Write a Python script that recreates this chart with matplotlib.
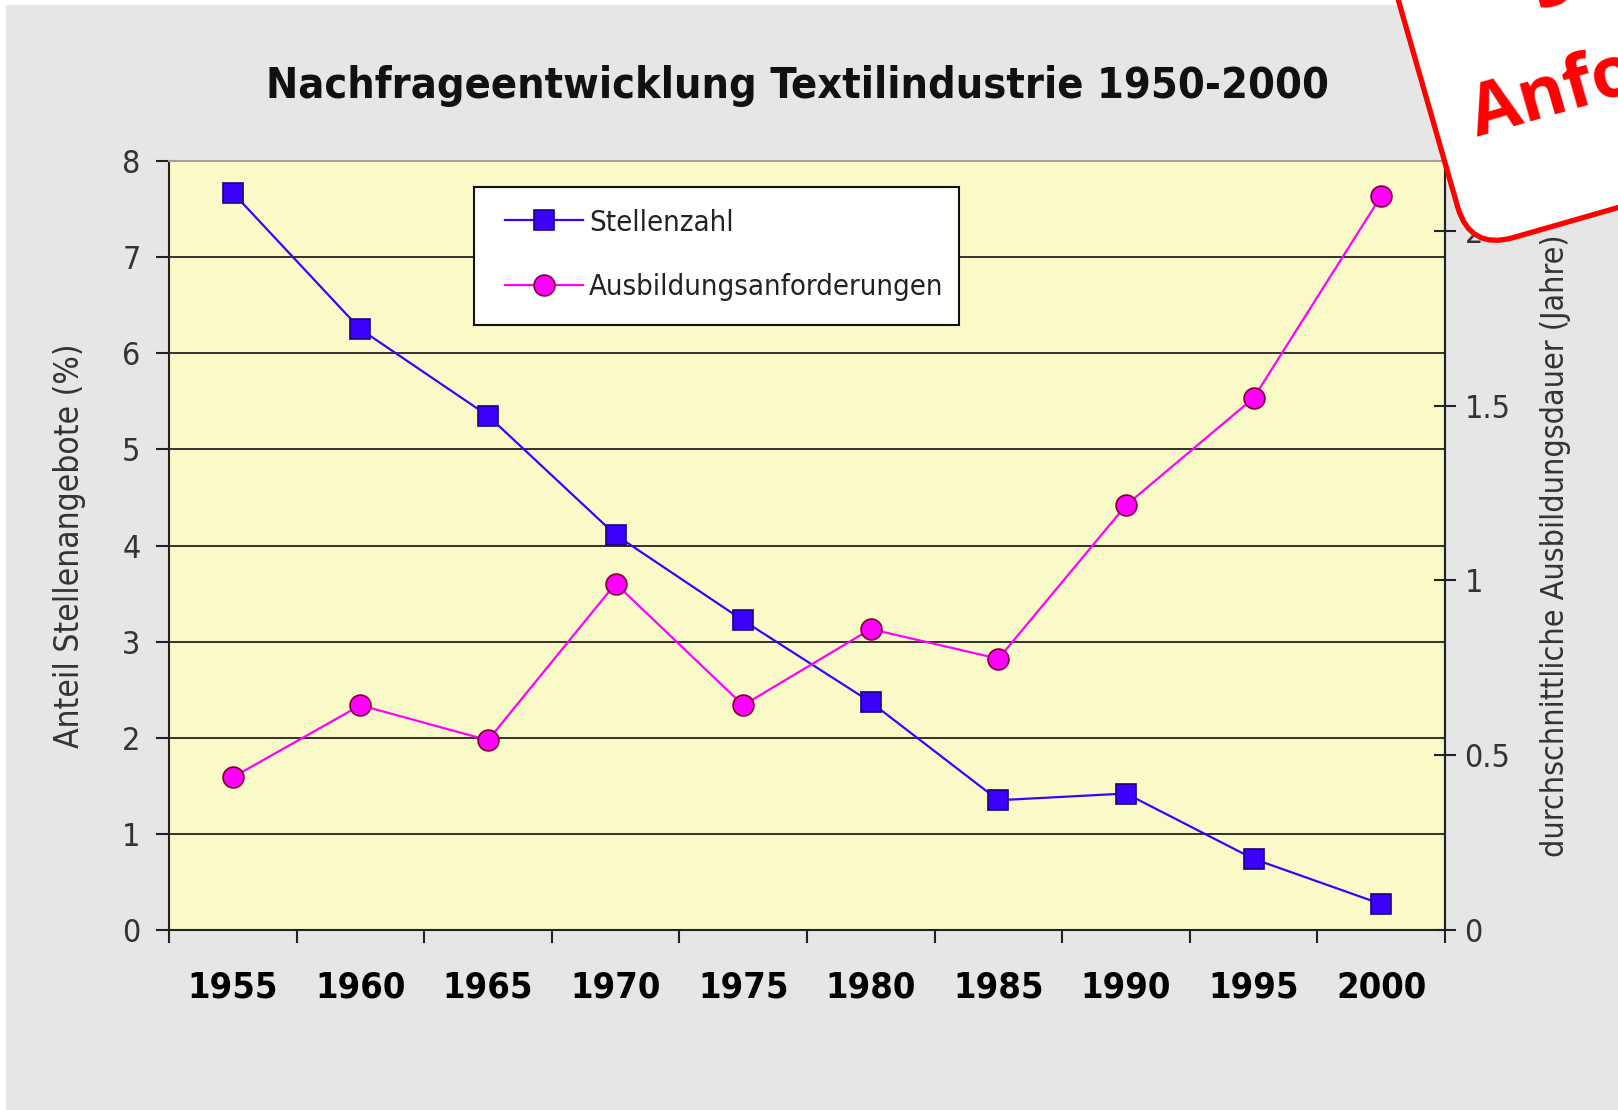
import numpy as np
import matplotlib
matplotlib.use("Agg")
import matplotlib.pyplot as plt
from matplotlib import font_manager
from matplotlib.patches import FancyBboxPatch, Rectangle
from matplotlib.lines import Line2D
from matplotlib.transforms import Affine2D

# schmale Schrift suchen (Arial-Narrow-Ersatz)
namen = {(f.name, str(f.stretch)) for f in font_manager.fontManager.ttflist}
if any(n == 'Liberation Sans Narrow' for n, _ in namen):
    plt.rcParams['font.family'] = ['Liberation Sans Narrow', 'DejaVu Sans']
elif any(n == 'DejaVu Sans' and 'condensed' in st for n, st in namen):
    plt.rcParams['font.family'] = ['DejaVu Sans']
    plt.rcParams['font.stretch'] = 'condensed'
else:
    plt.rcParams['font.family'] = ['Roboto', 'DejaVu Sans']

# Daten
jahre = ['1955', '1960', '1965', '1970', '1975', '1980', '1985', '1990', '1995', '2000']
stellenzahl = [7.67, 6.25, 5.35, 4.11, 3.22, 2.37, 1.35, 1.42, 0.74, 0.27]
ausbildung = [0.437, 0.643, 0.543, 0.991, 0.643, 0.861, 0.776, 1.215, 1.522, 2.10]
y_links_ticks = [0, 1, 2, 3, 4, 5, 6, 7, 8]
y_rechts_ticks = [0, 0.5, 1, 1.5, 2]
y_rechts_labels = ['0', '0.5', '1', '1.5', '2']

W, H = 1618, 1110
fig = plt.figure(figsize=(W / 100, H / 100), dpi=100, facecolor='white')

# grauer Hintergrund mit weissem Rand oben/links
fig.add_artist(Rectangle((6 / W, 0), 1, 1 - 5 / H, transform=fig.transFigure,
                         facecolor='#E6E6E6', edgecolor='none', zorder=-5))

ax = fig.add_axes([169 / W, 1 - 930 / H, (1445 - 169) / W, (930 - 161) / H])
ax.set_facecolor('#FAFAC8')
x = np.arange(len(jahre))

ax.set_xlim(-0.5, len(jahre) - 0.5)
ax.set_ylim(0, 8)
ax.set_yticks(y_links_ticks)
ax.set_yticklabels([str(v) for v in y_links_ticks])
for v in y_links_ticks[1:-1]:
    ax.axhline(v, color='#222222', lw=1.3, zorder=1)

ax.set_xticks(np.arange(-0.5, len(jahre)))
ax.set_xticklabels([])
ax.set_xticks(x, minor=True)
ax.set_xticklabels(jahre, minor=True, fontsize=26, fontweight='bold')
ax.tick_params(axis='x', which='major', direction='out', length=9, width=1.5, color='#222222')
ax.tick_params(axis='x', which='minor', length=0, pad=29)
ax.tick_params(axis='y', direction='out', length=9.5, width=1.5, labelsize=23, pad=11,
               colors='#222222', labelcolor='#333333')

for s in ['left', 'bottom', 'right']:
    ax.spines[s].set_color('#222222')
    ax.spines[s].set_linewidth(1.5)
ax.spines['top'].set_color('#A0A0A0')
ax.spines['top'].set_linewidth(1.5)

ax.set_ylabel('Anteil Stellenangebote (%)', fontsize=24, color='#333333')
ax.yaxis.set_label_coords(-0.065, 0.5)

ax.plot(x, stellenzahl, color='#3C00FF', lw=1.6, marker='s', markersize=14,
        markerfacecolor='#3C00FF', markeredgecolor='#1A0080', markeredgewidth=1.2, zorder=3)

ax2 = ax.twinx()
ax2.set_ylim(0, 2.2)
ax2.set_yticks(y_rechts_ticks)
ax2.set_yticklabels(y_rechts_labels)
ax2.tick_params(axis='y', direction='inout', length=16, width=1.5, labelsize=23, pad=6,
                colors='#222222', labelcolor='#333333')
for s in ['left', 'bottom', 'top']:
    ax2.spines[s].set_visible(False)
ax2.spines['right'].set_color('#222222')
ax2.spines['right'].set_linewidth(1.5)
ax2.set_ylabel('durchschnittliche Ausbildungsdauer (Jahre)', fontsize=23, color='#333333',
               rotation=90)
ax2.yaxis.set_label_coords(1.0745, 0.5)

ax2.plot(x, ausbildung, color='#FF00FF', lw=1.6, marker='o', markersize=15,
         markerfacecolor='#FF00FF', markeredgecolor='#800030', markeredgewidth=1.2, zorder=3)

# Legende: Rahmen separat, damit die Abstaende stimmen
ax2.add_patch(Rectangle((0.239, 0.7867), 0.380, 0.1795, transform=ax2.transAxes,
                        facecolor='white', edgecolor='#111111', lw=1.5, zorder=4))
handles = [
    Line2D([], [], color='#3C00FF', lw=1.6, marker='s', markersize=14,
           markerfacecolor='#3C00FF', markeredgecolor='#1A0080', markeredgewidth=1.2),
    Line2D([], [], color='#FF00FF', lw=1.6, marker='o', markersize=15,
           markerfacecolor='#FF00FF', markeredgecolor='#800030', markeredgewidth=1.2),
]
leg = ax2.legend(handles, ['Stellenzahl', 'Ausbildungsanforderungen'],
                 loc='upper left', bbox_to_anchor=(0.2633, 0.938), borderaxespad=0,
                 fontsize=21, frameon=False, handlelength=2.68, handletextpad=0.2,
                 labelspacing=1.25, borderpad=0)
leg.set_zorder(5)
for t in leg.get_texts():
    t.set_color('#222222')

fig.text(798 / W, 1 - 86 / H, 'Nachfrageentwicklung Textilindustrie 1950-2000',
         ha='center', va='center', fontsize=31, fontweight='bold', color='#111111')

# roter Aufkleber oben rechts
ov = fig.add_axes([0, 0, 1, 1], zorder=10)
ov.set_xlim(0, W)
ov.set_ylim(H, 0)
ov.axis('off')
px, py, ang = 1470, 250, 16
rot = Affine2D().rotate_deg_around(px, py, -ang)
sticker = FancyBboxPatch((px, py - 500), 700, 500,
                         boxstyle='round,pad=0,rounding_size=45',
                         facecolor='white', edgecolor='#FF0000', lw=3.8,
                         transform=rot + ov.transData)
ov.add_patch(sticker)

c, s = np.cos(np.radians(ang)), np.sin(np.radians(ang))
for txt, (dx, dy) in [('Steigende', (131, -212)), ('Anforderungen', (38, -107))]:
    tx = px + dx * c + dy * s
    ty = py - dx * s + dy * c
    ov.text(tx, ty, txt, rotation=ang, rotation_mode='anchor', ha='left', va='baseline',
            fontsize=52, fontweight='bold', fontstretch='normal', color='#FF0000',
            family=['Open Sans', 'DejaVu Sans'])

fig.savefig('out.png', dpi=100, facecolor=fig.get_facecolor())
